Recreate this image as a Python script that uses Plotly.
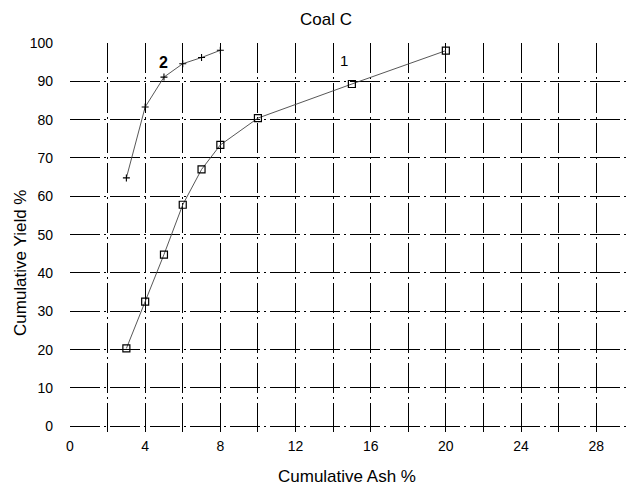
import plotly.graph_objects as go

# Curve 1 (open squares)
ash1 = [3, 4, 5, 6, 7, 8, 10, 15, 20]
yield1 = [20.3, 32.5, 44.8, 57.8, 67.0, 73.4, 80.4, 89.3, 98.0]
# Curve 2 (tick markers)
ash2 = [3, 4, 5, 6, 7, 8]
yield2 = [64.8, 83.3, 91.1, 94.6, 96.2, 98.1]

x_ticks = [0, 4, 8, 12, 16, 20, 24, 28]
y_ticks = [0, 10, 20, 30, 40, 50, 60, 70, 80, 90, 100]

FONT = "Liberation Sans, Arial, sans-serif"

L, R, T, B = 70, 0, 43, 55
W, H = 630, 487
plot_w = W - L - R
plot_h = H - T - B

def px_to_paper(px, py):
    return (px - L) / plot_w, (H - B - py) / plot_h

fig = go.Figure()
fig.add_trace(go.Scatter(
    x=ash1, y=yield1, mode="lines+markers",
    line=dict(color="#444", width=0.9),
    marker=dict(symbol="square-open", size=7, color="black", line=dict(width=1.2)),
    showlegend=False, cliponaxis=False))
fig.add_trace(go.Scatter(
    x=ash2, y=yield2, mode="lines+markers",
    line=dict(color="#444", width=0.9),
    marker=dict(symbol="cross-thin", size=5, color="black", line=dict(width=1.1, color="black")),
    showlegend=False, cliponaxis=False))

grid_dash = "30px,4px,2px,4px"

fig.update_layout(
    width=W, height=H,
    margin=dict(l=L, r=R, t=T, b=B),
    paper_bgcolor="white", plot_bgcolor="white",
    font=dict(family=FONT, color="black", size=14),
    xaxis=dict(
        range=[0, 29.8], tickmode="array", tickvals=x_ticks, ticktext=[str(v) for v in x_ticks],
        showgrid=True, gridcolor="black", gridwidth=1, griddash=grid_dash,
        minor=dict(tickmode="linear", tick0=0, dtick=2, showgrid=True,
                   gridcolor="black", gridwidth=1, griddash=grid_dash, ticks=""),
        zeroline=False, showline=False, ticks="",
        ticklabelstandoff=4, tickfont=dict(size=14),
    ),
    yaxis=dict(
        range=[-1.5, 100], tickmode="array", tickvals=y_ticks, ticktext=[str(v) for v in y_ticks],
        showgrid=True, gridcolor="black", gridwidth=1, griddash=grid_dash,
        zeroline=False, showline=False, ticks="",
        ticklabelstandoff=16, tickfont=dict(size=14),
    ),
)

tx, ty = px_to_paper(326, 20)
ax_x, ax_y = px_to_paper(347, 476)
ay_x, ay_y = px_to_paper(20, 263)
common = dict(xref="paper", yref="paper", showarrow=False, xanchor="center", yanchor="middle")
fig.update_layout(annotations=[
    dict(text="Coal C", x=tx, y=ty, font=dict(size=17), **common),
    dict(text="Cumulative Ash %", x=ax_x, y=ax_y, font=dict(size=17), **common),
    dict(text="Cumulative Yield %", x=ay_x, y=ay_y, textangle=-90, font=dict(size=17), **common),
    dict(text="<b>2</b>", x=4.95, y=95, xref="x", yref="y", showarrow=False,
         xanchor="center", yanchor="middle", font=dict(size=16)),
    dict(text="1", x=14.6, y=95.5, xref="x", yref="y", showarrow=False,
         xanchor="center", yanchor="middle", font=dict(size=15)),
])

fig.write_html("out.html")
